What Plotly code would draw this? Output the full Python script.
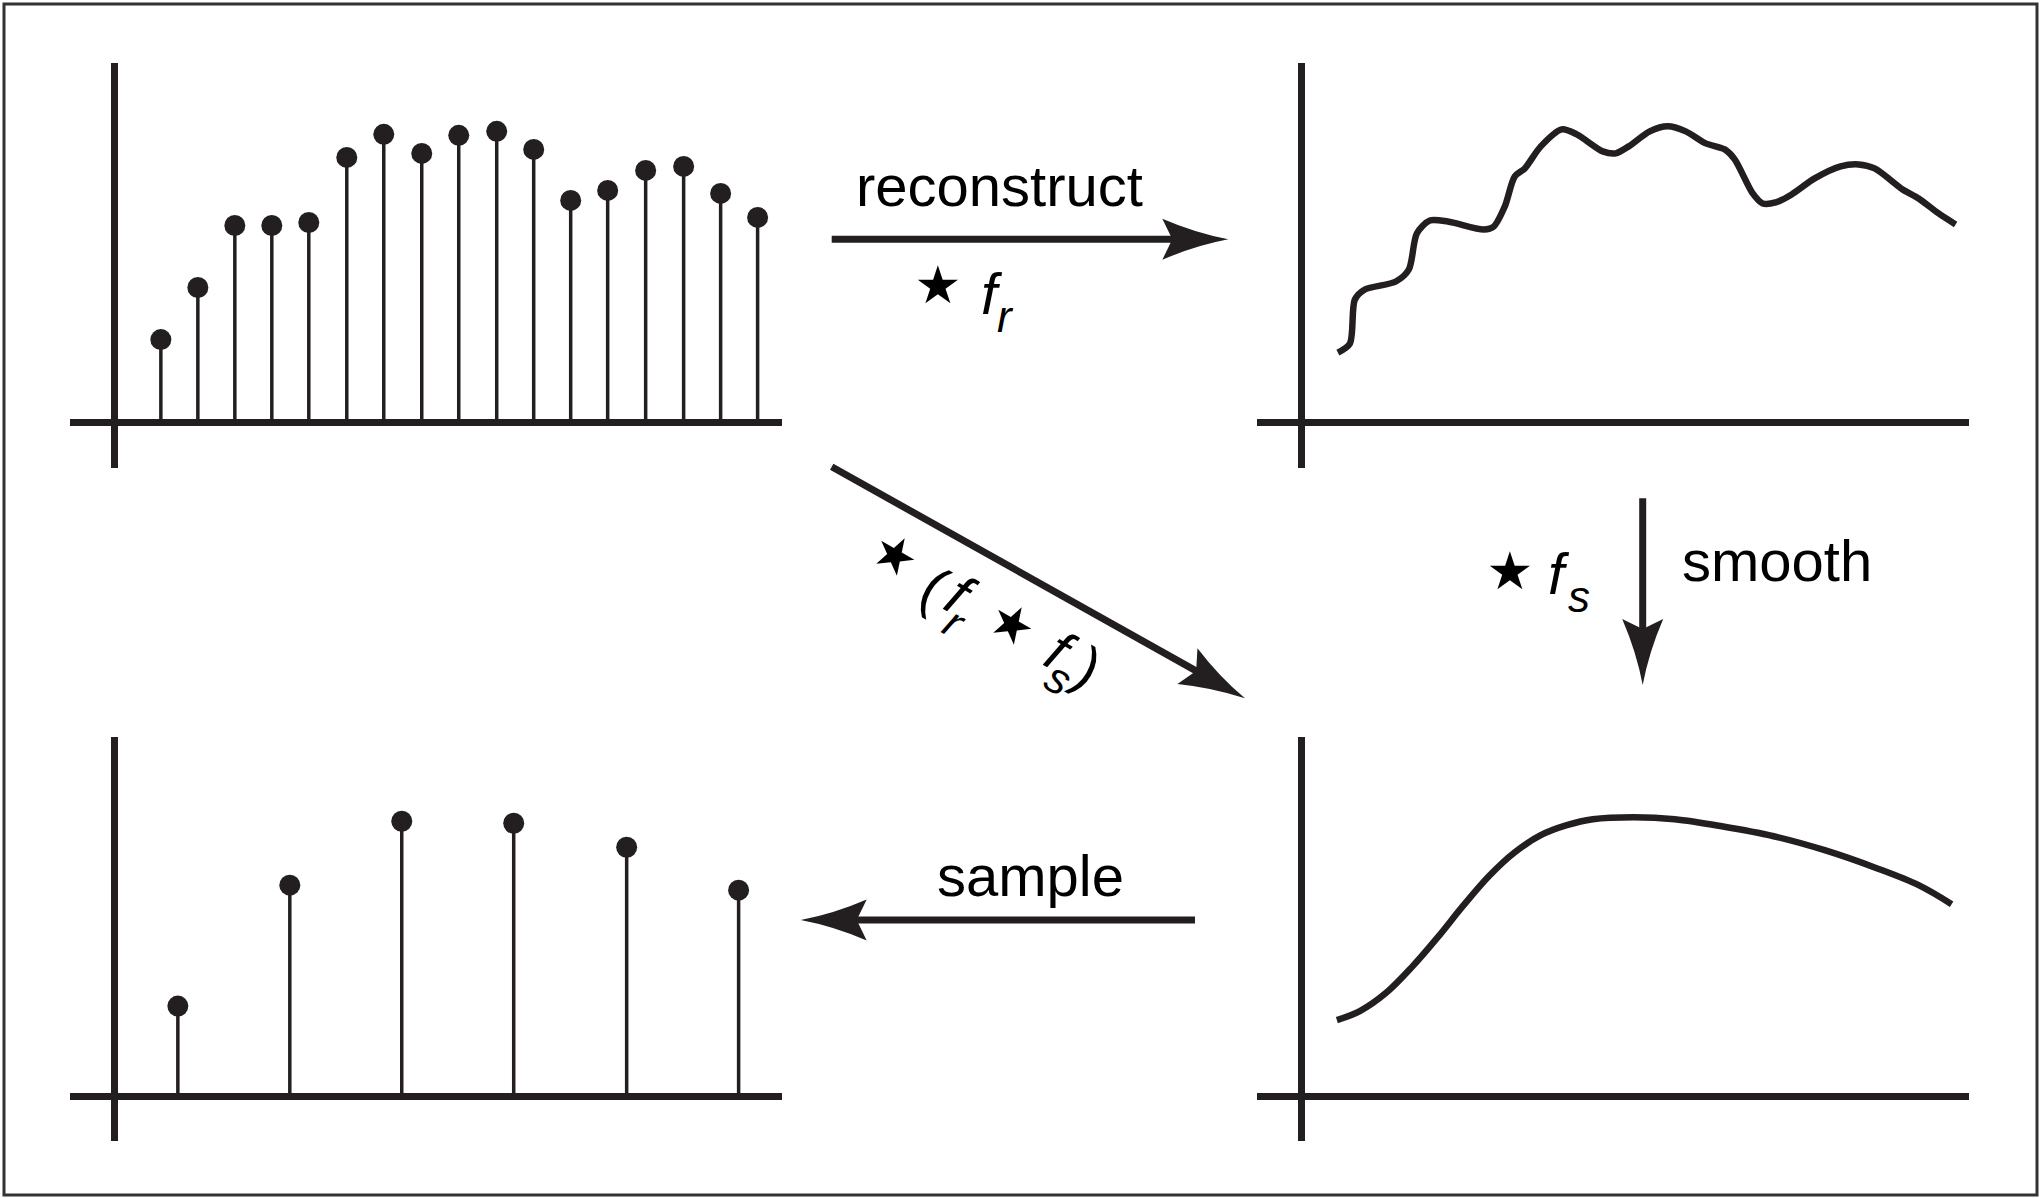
import math

import plotly.graph_objects as go

W, H = 2041, 1198
INK = "#231f20"
FONT = "Liberation Sans, Arial, Helvetica, sans-serif"

# ---- data (x and y in units of 10 px, origin at the axis crossing) ----
# top left: dense samples
dense_t = [4.6, 8.3, 12.0, 15.7, 19.4, 23.2, 26.9, 30.7, 34.4, 38.2, 41.9,
           45.6, 49.3, 53.1, 56.9, 60.6, 64.3]
dense_v = [8.3, 13.5, 19.7, 19.7, 20.0, 26.5, 28.8, 26.9, 28.7, 29.1, 27.3,
           22.2, 23.2, 25.2, 25.6, 22.9, 20.5]

# top right: reconstructed signal
recon_t = [3.6, 4.8, 5.3, 6.3, 9.4, 10.7, 11.5, 12.8, 14.6, 18.2, 19.2, 20.3,
           21.3, 22.3, 23.9, 26.0, 27.5, 30.1, 31.4, 32.7, 34.8, 36.6, 38.4,
           40.4, 42.3, 43.3, 45.1, 46.1, 47.4, 49.0, 51.3, 53.9, 55.7, 57.3,
           60.1, 61.7, 63.7, 65.4]
recon_v = [7.0, 7.9, 12.3, 13.3, 14.1, 15.3, 18.9, 20.2, 20.1, 19.3, 19.6, 21.6,
           24.6, 25.4, 27.6, 29.3, 28.8, 27.1, 26.9, 27.6, 29.1, 29.6, 29.1,
           27.9, 27.3, 26.3, 22.9, 21.9, 22.0, 22.8, 24.4, 25.6, 25.8, 25.4,
           23.3, 22.4, 20.9, 19.8]

# bottom right: smoothed signal
smooth_t = [3.5, 5.8, 8.4, 11.0, 13.6, 16.1, 18.7, 21.3, 23.9, 26.5, 29.1,
            33.2, 37.3, 42.0, 47.2, 52.3, 57.5, 61.7, 65.0]
smooth_v = [7.6, 8.5, 10.3, 12.9, 15.9, 19.0, 22.0, 24.4, 26.1, 27.1, 27.7,
            27.9, 27.7, 27.0, 26.0, 24.6, 22.8, 21.1, 19.2]

# bottom left: resampled
sparse_t = [6.3, 17.5, 28.7, 39.9, 51.2, 62.4]
sparse_v = [9.0, 21.1, 27.5, 27.3, 24.9, 20.6]

X_RANGE = [-4.5, 66.7]
Y_RANGE = [-4.5, 35.9]

STAR = "⋆"


def px(x):
    return x / W


def py(y):
    return 1 - y / H


def axis(lo, hi, rng, width):
    return dict(domain=[lo, hi], range=rng, showgrid=False,
                showticklabels=False, ticks="", showline=False,
                zeroline=True, zerolinecolor=INK, zerolinewidth=width,
                fixedrange=True)


def stems(t, v):
    xs, ys = [], []
    for a, b in zip(t, v):
        xs += [a, a, None]
        ys += [0, b, None]
    return xs, ys


def add_samples(fig, t, v, xa, ya):
    xs, ys = stems(t, v)
    fig.add_trace(go.Scatter(x=xs, y=ys, mode="lines", xaxis=xa, yaxis=ya,
                             line=dict(color=INK, width=3.5),
                             hoverinfo="skip", showlegend=False))
    fig.add_trace(go.Scatter(x=t, y=v, mode="markers", xaxis=xa, yaxis=ya,
                             marker=dict(color=INK, size=21),
                             showlegend=False))


def add_curve(fig, t, v, xa, ya, smoothing):
    fig.add_trace(go.Scatter(x=t, y=v, mode="lines", xaxis=xa, yaxis=ya,
                             line=dict(color=INK, width=6.5, shape="spline",
                                       smoothing=smoothing),
                             showlegend=False))


def arrow(x0, y0, x1, y1, head=66, half=20.5, notch=56):
    """Shaft plus a notched, slightly concave head; coordinates in pixels."""
    n = math.hypot(x1 - x0, y1 - y0)
    ux, uy = (x1 - x0) / n, (y1 - y0) / n

    def pt(a, b):
        x, y = x1 - a * ux - b * uy, y1 - a * uy + b * ux
        return f"{px(x):.5f},{py(y):.5f}"

    path = (f"M{pt(0, 0)} Q{pt(head / 2, half / 2 - 4)} {pt(head, half)} "
            f"L{pt(notch, 0)} L{pt(head, -half)} "
            f"Q{pt(head / 2, -half / 2 + 4)} {pt(0, 0)} Z")
    ex, ey = x1 - (notch - 3) * ux, y1 - (notch - 3) * uy
    shaft = dict(type="line", xref="paper", yref="paper",
                 x0=px(x0), y0=py(y0), x1=px(ex), y1=py(ey),
                 line=dict(color=INK, width=7))
    tip = dict(type="path", xref="paper", yref="paper", path=path,
               fillcolor=INK, line=dict(width=0))
    return [shaft, tip]


def label(text, x, y, size=58, angle=0, italic=False):
    if italic:
        text = f"<i>{text}</i>"
    return dict(x=px(x), y=py(y), xref="paper", yref="paper", text=text,
                showarrow=False, xanchor="center", yanchor="middle",
                textangle=angle, font=dict(family=FONT, size=size,
                                           color="#000"))


fig = go.Figure()
add_samples(fig, dense_t, dense_v, "x", "y")
add_curve(fig, recon_t, recon_v, "x2", "y2", 0.8)
add_curve(fig, smooth_t, smooth_v, "x3", "y3", 1.0)
add_samples(fig, sparse_t, sparse_v, "x4", "y4")

left = (px(69.9), px(781.6))
right = (px(1256.9), px(1968.6))
top = (py(467.7), py(63.3))
bottom = (py(1141), py(737.3))

shapes = [dict(type="rect", xref="paper", yref="paper",
               x0=px(4), y0=py(1195), x1=px(2037), y1=py(4),
               line=dict(color="#333", width=3))]
shapes += arrow(831.7, 239.3, 1228.3, 239.3)
shapes += arrow(831.7, 466.7, 1245.0, 698.3)
shapes += arrow(1642.7, 498.3, 1642.7, 685.0)
shapes += arrow(1195.0, 920.0, 800.7, 920.0)

annotations = [
    label("reconstruct", 999, 185),
    label("smooth", 1777, 560),
    label("sample", 1030, 875),
    # * f_r  under the reconstruct arrow
    label(STAR, 938, 283, size=105),
    label("f", 992, 293, italic=True),
    label("r", 1005, 316, size=44, italic=True),
    # * f_s  beside the smooth arrow
    label(STAR, 1510, 568, size=105),
    label("f", 1559, 573, italic=True),
    label("s", 1579, 596, size=44, italic=True),
]

# * (f_r * f_s)  along the diagonal arrow, one glyph at a time
ANG = 30
for text, x, y, size, it in [
    (STAR, 896, 552, 100, False),
    ("(", 934, 586, 58, False),
    ("f", 961, 595, 58, True),
    ("r", 955, 622, 44, True),
    (STAR, 1013, 621, 100, False),
    ("f", 1061, 651, 58, True),
    ("s", 1059, 678, 44, True),
    (")", 1088, 667, 58, False),
]:
    annotations.append(label(text, x, y, size=size, angle=ANG, italic=it))

fig.update_layout(
    width=W, height=H,
    margin=dict(l=0, r=0, t=0, b=0),
    paper_bgcolor="white", plot_bgcolor="white",
    showlegend=False,
    xaxis=axis(*left, X_RANGE, 7), yaxis=axis(*top, Y_RANGE, 7),
    xaxis2=axis(*right, X_RANGE, 7), yaxis2=axis(*top, Y_RANGE, 7),
    xaxis3=axis(*right, X_RANGE, 7), yaxis3=axis(*bottom, Y_RANGE, 7),
    xaxis4=axis(*left, X_RANGE, 7), yaxis4=axis(*bottom, Y_RANGE, 7),
    annotations=annotations,
    shapes=shapes,
)

fig.write_html("out.html", config={"displayModeBar": False},
               post_script="document.body.style.margin = '0';")
